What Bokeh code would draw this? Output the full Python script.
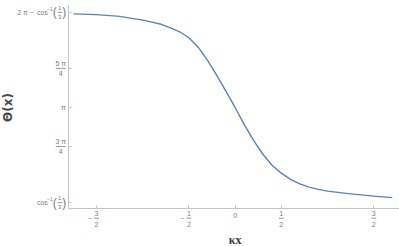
import math
from bokeh.plotting import figure
from bokeh.models import Label, Arrow, FixedTicker
from bokeh.embed import file_html
from bokeh.resources import INLINE

# ---- data ----
kx = [-1.75, -1.5, -1.25, -1.0, -0.9, -0.8, -0.7, -0.6, -0.5, -0.4, -0.3, -0.2, -0.1,
      0.0, 0.1, 0.2, 0.3, 0.4, 0.5, 0.6, 0.7, 0.8, 0.9, 1.0, 1.25, 1.5, 1.7]
theta = [5.022, 5.007, 4.972, 4.897, 4.857, 4.812, 4.742, 4.662, 4.542, 4.352, 4.092, 3.792, 3.472,
         3.142, 2.792, 2.482, 2.202, 1.982, 1.822, 1.697, 1.607, 1.542, 1.497, 1.462, 1.407, 1.362, 1.332]

acos13 = math.acos(1 / 3)
y_ticks = [acos13, 3 * math.pi / 4, math.pi, 5 * math.pi / 4, 2 * math.pi - acos13]
x_ticks = [-1.5, -0.5, 0.0, 0.5, 1.5]
# x tick labels: (sign, numerator, denominator)
x_tick_labels = [("−", "3", "2"), ("−", "1", "2"), ("", "0", ""), ("", "1", "2"), ("", "3", "2")]

# axes crossing point and plot-range extents (Mathematica style axes)
AX_X = -1.80      # where the vertical axis sits
AX_Y = 1.12       # where the horizontal axis sits
TOP_Y = 5.18      # top end of vertical axis

# whole-canvas data window
X0, X1 = -2.539, 1.779
Y0, Y1 = 0.35, 5.29
W, H = 399, 246
sx = W / (X1 - X0)
sy = H / (Y1 - Y0)

TICK_COL = "#7c7c7c"
AX_COL = "#c4c4c4"
FONT = "Liberation Sans"

p = figure(width=W, height=H, x_range=(X0, X1), y_range=(Y0, Y1),
           output_backend="svg", toolbar_location=None,
           min_border=0)
p.outline_line_color = None
p.grid.visible = False
p.background_fill_color = "white"

p.xaxis.fixed_location = AX_Y
p.yaxis.fixed_location = AX_X
p.xaxis.bounds = (AX_X, X1)
p.yaxis.bounds = (AX_Y, TOP_Y)
for ax, ticks in ((p.xaxis, x_ticks), (p.yaxis, y_ticks)):
    ax.ticker = FixedTicker(ticks=ticks)
    ax.major_label_overrides = {t: "" for t in ticks}
    ax.major_label_standoff = 0
    ax.axis_line_color = AX_COL
    ax.major_tick_line_color = AX_COL
    ax.major_tick_in = 3
    ax.major_tick_out = 0
    ax.minor_tick_line_color = None

p.line(kx, theta, line_color="#5E81B5", line_width=1.4, line_join="round")


def lab(x, y, text, dx, dy, size=7, align="center", color=TICK_COL, font=FONT, style="normal", angle=0):
    p.add_layout(Label(x=x, y=y, text=text, x_offset=dx, y_offset=-dy,
                       text_font_size=f"{size}px", text_align=align, text_baseline="middle",
                       text_color=color, text_font=font, text_font_style=style, angle=angle))


def bar(x, y, dx0, dx1, dy):
    p.add_layout(Arrow(x_start=x + dx0 / sx, y_start=y - dy / sy,
                       x_end=x + dx1 / sx, y_end=y - dy / sy,
                       end=None, start=None, line_color=TICK_COL, line_width=0.8))


def cos_part(y):
    lab(AX_X, y, "cos", -21, 0, align="right")
    lab(AX_X, y, "−1", -16, -3.5, size=5, align="right")
    lab(AX_X, y, "(", -14, 0, size=12)
    lab(AX_X, y, "1", -9, -4.5, size=6)
    bar(AX_X, y, -11, -6.5, 0)
    lab(AX_X, y, "3", -9, 4.5, size=6)
    lab(AX_X, y, ")", -4.5, 0, size=12)


# y tick labels
y_bot, y34, ypi, y54, y_top = y_ticks
cos_part(y_bot)
cos_part(y_top)
lab(AX_X, y_top, "2 π − ", -33, 0, align="right")
for yv, num in ((y34, "3 π"), (y54, "5 π")):
    lab(AX_X, yv, num, -8, -5)
    bar(AX_X, yv, -13, -3, 0)
    lab(AX_X, yv, "4", -8, 5)
lab(AX_X, ypi, "π", -3, 0, align="right")

# x tick labels
for xv, (sgn, num, den) in zip(x_ticks, x_tick_labels):
    if den == "":
        lab(xv, AX_Y, num, 0, 7)
        continue
    if sgn:
        lab(xv, AX_Y, sgn, -6.5, 10)
    lab(xv, AX_Y, num, 0, 5)
    bar(xv, AX_Y, -2.5, 2.5, 10)
    lab(xv, AX_Y, den, 0, 16)

# axis titles
lab(0.0, AX_Y, "κx", 0, 32, size=12, align="center", color="#3a3a3a",
    font="Liberation Serif", style="bold")
lab(AX_X, math.pi, "Θ(x)", -61, 0, size=12, align="center", color="#4a4a4a",
    font="DejaVu Sans", style="bold", angle=math.pi / 2)

open("out.html", "w").write(file_html(p, INLINE))
